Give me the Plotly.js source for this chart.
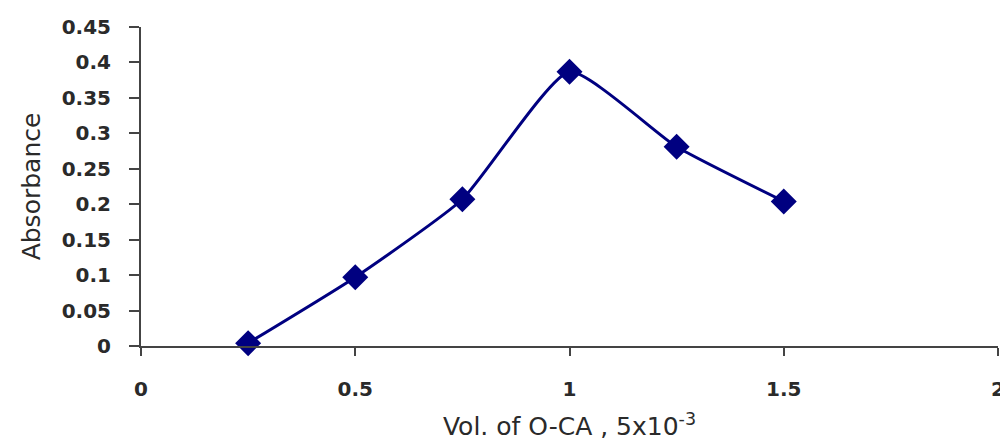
<!DOCTYPE html>
<html>
<head>
<meta charset="utf-8">
<script src="https://cdn.plot.ly/plotly-3.0.1.min.js"></script>
<style>html,body{margin:0;padding:0;background:#fff;}#chart{width:1000px;height:441px;}</style>
</head>
<body>
<div id="chart"></div>
<script>
var volume = [0.25, 0.5, 0.75, 1.0, 1.25, 1.5];
var absorbance = [0.004, 0.097, 0.207, 0.387, 0.281, 0.204];
var xTicks = [0, 0.5, 1, 1.5, 2];
var xTickText = ['0', '0.5', '1', '1.5', '2'];
var yTicks = [0, 0.05, 0.1, 0.15, 0.2, 0.25, 0.3, 0.35, 0.4, 0.45];
var yTickText = ['0', '0.05', '0.1', '0.15', '0.2', '0.25', '0.3', '0.35', '0.4', '0.45'];

var trace = {
  x: volume, y: absorbance, type: 'scatter', mode: 'lines+markers',
  line: {color: '#000080', width: 3, shape: 'spline', smoothing: 0.5},
  marker: {symbol: 'diamond', size: 20, color: '#000080'},
  cliponaxis: false, showlegend: false, hoverinfo: 'skip'
};

var tickFont = {family: 'DejaVu Sans', size: 20, weight: 'bold', color: '#2a2a2a'};
var titleFont = {family: 'DejaVu Sans', size: 25, color: '#2a2a2a'};
var layout = {
  width: 1000, height: 441,
  margin: {l: 141, r: 2, t: 27, b: 95},
  paper_bgcolor: '#fff', plot_bgcolor: '#fff',
  xaxis: {
    range: [0, 2], tickvals: xTicks, ticktext: xTickText,
    showgrid: false, zeroline: false, showline: true, linecolor: '#444', linewidth: 2,
    ticks: 'outside', ticklen: 8, tickwidth: 2, tickcolor: '#444', ticklabelstandoff: 16,
    ticklabeloverflow: 'allow',
    tickfont: tickFont,
    title: {text: 'Vol. of O-CA , 5x10<sup>-3</sup>', font: titleFont, standoff: 20}
  },
  yaxis: {
    range: [0, 0.45], tickvals: yTicks, ticktext: yTickText,
    showgrid: false, zeroline: false, showline: true, linecolor: '#444', linewidth: 2,
    ticks: 'outside', ticklen: 10, tickwidth: 2, tickcolor: '#444', ticklabelstandoff: 14,
    tickfont: tickFont,
    title: {text: 'Absorbance', font: titleFont, standoff: 14}
  }
};
Plotly.newPlot('chart', [trace], layout, {staticPlot: true, displayModeBar: false});
</script>
</body>
</html>
